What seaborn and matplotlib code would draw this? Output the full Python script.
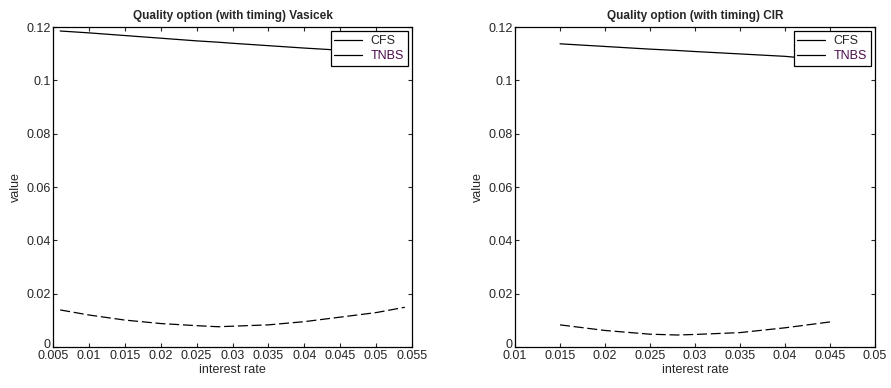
import numpy as np
import pandas as pd
import matplotlib
matplotlib.use("Agg")
import matplotlib.pyplot as plt
import matplotlib.transforms as mtransforms
import seaborn as sns

# Vasicek data
vas_rate = [0.006, 0.010, 0.015, 0.020, 0.025, 0.028, 0.030, 0.035, 0.040, 0.045, 0.050, 0.054]
vas_cfs = [0.1185, 0.1178, 0.1168, 0.1158, 0.1148, 0.1143, 0.1139, 0.1130, 0.1121, 0.1113, 0.1105, 0.1098]
vas_tnbs = [0.0139, 0.0120, 0.0101, 0.0088, 0.0080, 0.0076, 0.0078, 0.0083, 0.0095, 0.0112, 0.0129, 0.0149]

# CIR data
cir_rate = [0.015, 0.020, 0.025, 0.028, 0.030, 0.035, 0.040, 0.045]
cir_cfs = [0.1137, 0.1127, 0.1117, 0.1112, 0.1108, 0.1099, 0.1090, 0.1075]
cir_tnbs = [0.0083, 0.0062, 0.0048, 0.0045, 0.0047, 0.0054, 0.0072, 0.0094]

series_names = ["CFS", "TNBS"]
titles = ["Quality option (with timing) Vasicek", "Quality option (with timing) CIR"]
vas_xticks = [0.005, 0.01, 0.015, 0.02, 0.025, 0.03, 0.035, 0.04, 0.045, 0.05, 0.055]
vas_xticklabels = ["0.005", "0.01", "0.015", "0.02", "0.025", "0.03", "0.035", "0.04", "0.045", "0.05", "0.055"]
cir_xticks = [0.01, 0.015, 0.02, 0.025, 0.03, 0.035, 0.04, 0.045, 0.05]
cir_xticklabels = ["0.01", "0.015", "0.02", "0.025", "0.03", "0.035", "0.04", "0.045", "0.05"]
yticks = [0, 0.02, 0.04, 0.06, 0.08, 0.1, 0.12]
yticklabels = ["0", "0.02", "0.04", "0.06", "0.08", "0.1", "0.12"]

sns.set_style("ticks")
plt.rcParams['font.family'] = ['Liberation Sans', 'DejaVu Sans']
plt.rcParams['xtick.direction'] = 'in'
plt.rcParams['ytick.direction'] = 'in'

fig = plt.figure(figsize=(8.91, 3.88), dpi=100)
ax1 = fig.add_axes([53/891, 1-347/388, 359/891, 320/388])
ax2 = fig.add_axes([515/891, 1-347/388, 360/891, 320/388])

def make_df(rate, cfs, tnbs):
    return pd.DataFrame({
        "interest rate": list(rate) * 2,
        "value": list(cfs) + list(tnbs),
        "series": [series_names[0]] * len(rate) + [series_names[1]] * len(rate),
    })

configs = [
    (ax1, make_df(vas_rate, vas_cfs, vas_tnbs), (0.005, 0.055), vas_xticks, titles[0], vas_xticklabels),
    (ax2, make_df(cir_rate, cir_cfs, cir_tnbs), (0.01, 0.05), cir_xticks, titles[1], cir_xticklabels),
]

for ax, df, xlim, xt, title, xtl in configs:
    sns.lineplot(data=df, x="interest rate", y="value", hue="series", style="series",
                 palette=["black", "black"], dashes=[(None, None), (8, 3)],
                 linewidth=0.9, ax=ax, legend=False)
    ax.set_xlim(*xlim)
    ax.set_ylim(0, 0.12)
    ax.set_xticks(xt)
    ax.set_xticklabels(xtl)
    ax.set_yticks(yticks)
    ax.set_yticklabels(yticklabels)
    ax.tick_params(axis='both', labelsize=9, length=3, width=0.8, top=True, right=True, pad=1.5)
    ax.tick_params(axis='x', pad=2.5)
    # nudge the "0" y label slightly upward, as in the reference
    lbl0 = ax.get_yticklabels()[0]
    lbl0.set_transform(lbl0.get_transform() + mtransforms.ScaledTranslation(0, 4/100, fig.dpi_scale_trans))
    for s in ax.spines.values():
        s.set_linewidth(0.9)
        s.set_color("black")
    ax.set_title(title, fontsize=8.5, fontweight='bold', pad=6)
    ax.set_xlabel("interest rate", fontsize=9, labelpad=1)
    ax.set_ylabel("value", fontsize=9, labelpad=3)
    handles = [plt.Line2D([], [], color='black', lw=0.9),
               plt.Line2D([], [], color='black', lw=0.9)]
    leg = ax.legend(handles, series_names, loc='upper right', fontsize=9, frameon=True,
                    fancybox=False, edgecolor='black', framealpha=1, borderaxespad=0.35,
                    handlelength=2.2, handletextpad=0.7, borderpad=0.3, labelspacing=0.25)
    leg.get_frame().set_linewidth(0.9)
    leg.get_texts()[1].set_color("#4b0a4b")

fig.savefig("out.png", dpi=100)
